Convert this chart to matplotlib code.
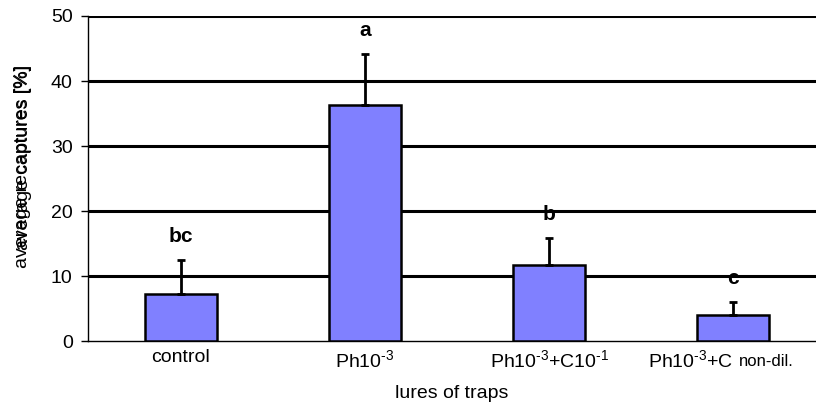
import matplotlib
matplotlib.use('Agg')
import matplotlib.pyplot as plt

plt.rcParams['font.family'] = ['Liberation Sans', 'DejaVu Sans']
plt.rcParams['mathtext.fontset'] = 'custom'
plt.rcParams['mathtext.rm'] = 'Liberation Sans'
plt.rcParams['mathtext.it'] = 'Liberation Sans'

# data
lures = ['control', r'Ph10$^{\text{-3}}$', r'Ph10$^{\text{-3}}$+C10$^{\text{-1}}$',
         r'Ph10$^{\text{-3}}$+C']
lure_suffix = ['', '', '', 'non-dil.']
captures = [7.2, 36.3, 11.7, 4.0]
errors = [5.3, 7.9, 4.1, 2.0]
letters = ['bc', 'a', 'b', 'c']
yticks = [0, 10, 20, 30, 40, 50]


def main():
    fig = plt.figure(figsize=(8.16, 4.03), dpi=100)
    ax = fig.add_axes([0.1078, 0.1538, 0.8922, 0.8065])

    x = list(range(len(lures)))
    for val in yticks[1:]:
        ax.axhline(val, color='black', linewidth=2.2, zorder=1)

    ax.bar(x, captures, width=0.39, color='#8080FF', edgecolor='black',
           linewidth=1.8, zorder=3)
    ax.errorbar(x, captures, yerr=[[0] * len(errors), errors], fmt='none',
                ecolor='black', elinewidth=2, capsize=3, capthick=2, zorder=4)

    for xi, c, e, lab in zip(x, captures, errors, letters):
        ax.annotate(lab, (xi, c + e), xytext=(0, 10), textcoords='offset points',
                    ha='center', va='bottom', fontsize=15, fontweight='bold')

    ax.set_xlim(-0.505, 3.45)
    ax.set_ylim(0, 50)
    ax.set_yticks(yticks)
    ax.set_xticks(x)
    ax.set_xticklabels(lures, fontsize=14)
    ax.tick_params(axis='x', length=0, pad=6)
    ax.tick_params(axis='y', labelsize=14, length=5, width=1, direction='out', pad=6)
    ax.spines['top'].set_visible(False)
    ax.spines['right'].set_visible(False)
    ax.spines['left'].set_linewidth(1)
    ax.spines['bottom'].set_linewidth(1)
    ax.set_xlabel('lures of traps', fontsize=14, labelpad=10)

    # smaller suffix after a tick label (e.g. "non-dil.")
    for tl, suffix in zip(ax.get_xticklabels(), lure_suffix):
        if suffix:
            tl.set_horizontalalignment('right')
            ax.annotate(suffix, xy=(1, 0), xycoords=tl, xytext=(4, 1.5),
                        textcoords='offset points', ha='left', va='bottom',
                        fontsize=12)

    # two overlapping y labels as in the source
    fig.text(0.029, 0.839, 'average captures [%]', rotation=90, fontsize=14,
             ha='center', va='top')
    fig.text(0.027, 0.839, 'average recaptures [%]', rotation=90, fontsize=14,
             ha='center', va='top')

    fig.savefig('out.png', dpi=100)


if __name__ == '__main__':
    main()
